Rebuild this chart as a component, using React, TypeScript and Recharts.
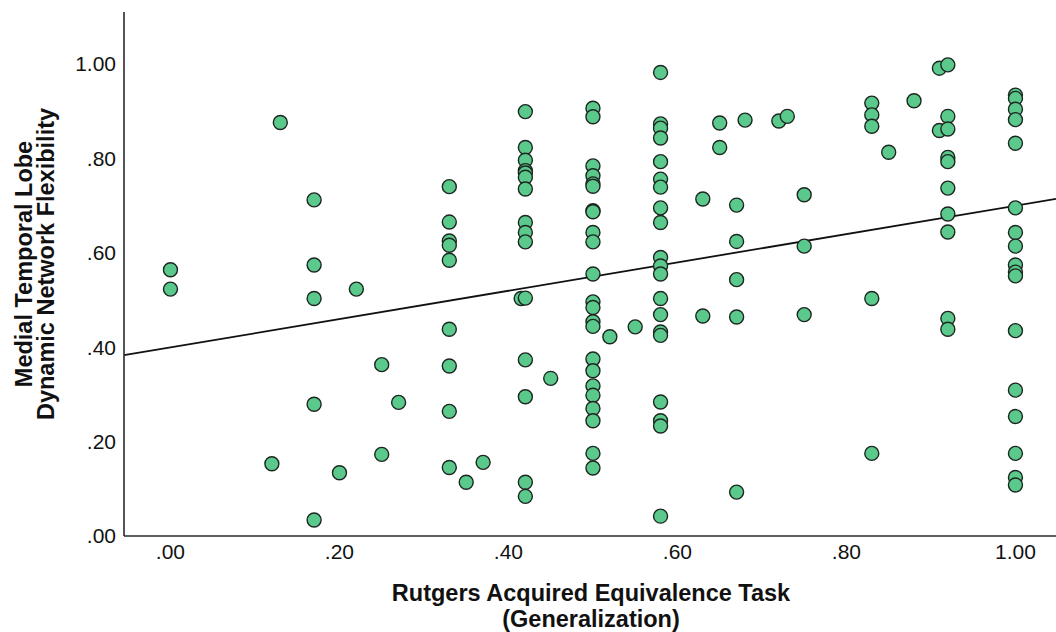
import React from 'react';
import { ScatterChart, Scatter, XAxis, YAxis, ReferenceLine } from 'recharts';

// Rutgers Acquired Equivalence Task (Generalization) score -> list of flexibility values
const col000 = [0.564, 0.523];
const col012 = [0.153];
const col013 = [0.876];
const col017 = [0.712, 0.574, 0.503, 0.279, 0.034];
const col020 = [0.134];
const col022 = [0.523];
const col025 = [0.363, 0.173];
const col027 = [0.283];
const col033 = [0.74, 0.665, 0.625, 0.616, 0.584, 0.438, 0.36, 0.264, 0.145];
const col035 = [0.114];
const col037 = [0.156];
const col0415 = [0.503];
const col042 = [0.899, 0.823, 0.796, 0.774, 0.769, 0.76, 0.735, 0.664, 0.643, 0.623, 0.504, 0.373, 0.295, 0.114, 0.084];
const col045 = [0.334];
const col050 = [0.906, 0.888, 0.784, 0.763, 0.746, 0.741, 0.689, 0.687, 0.643, 0.623, 0.555, 0.496, 0.484, 0.454, 0.444, 0.375, 0.35, 0.318, 0.298, 0.27, 0.244, 0.175, 0.144];
const col052 = [0.422];
const col055 = [0.443];
const col058 = [0.982, 0.873, 0.864, 0.843, 0.793, 0.756, 0.739, 0.695, 0.664, 0.59, 0.572, 0.555, 0.503, 0.469, 0.432, 0.425, 0.284, 0.244, 0.233, 0.042];
const col063 = [0.714, 0.466];
const col065 = [0.875, 0.823];
const col067 = [0.701, 0.624, 0.543, 0.464, 0.093];
const col068 = [0.881];
const col072 = [0.879];
const col073 = [0.889];
const col075 = [0.723, 0.614, 0.469];
const col083 = [0.917, 0.892, 0.868, 0.503, 0.175];
const col085 = [0.813];
const col088 = [0.922];
const col091 = [0.991, 0.859];
const col092 = [0.998, 0.889, 0.862, 0.802, 0.793, 0.737, 0.682, 0.644, 0.461, 0.438];
const col100 = [0.934, 0.927, 0.904, 0.882, 0.832, 0.695, 0.643, 0.614, 0.574, 0.559, 0.551, 0.435, 0.309, 0.253, 0.175, 0.124, 0.108];

const columns: [number, number[]][] = [
  [0, col000], [0.12, col012], [0.13, col013], [0.17, col017], [0.2, col020],
  [0.22, col022], [0.25, col025], [0.27, col027], [0.33, col033], [0.35, col035],
  [0.37, col037], [0.415, col0415], [0.42, col042], [0.45, col045], [0.5, col050],
  [0.52, col052], [0.55, col055], [0.58, col058], [0.63, col063], [0.65, col065],
  [0.67, col067], [0.68, col068], [0.72, col072], [0.73, col073], [0.75, col075],
  [0.83, col083], [0.85, col085], [0.88, col088], [0.91, col091], [0.92, col092],
  [1.0, col100],
];

// fit line end points
const fitStart = { x: -0.055, y: 0.383 };
const fitEnd = { x: 1.048, y: 0.714 };

const xTicks = [0, 0.2, 0.4, 0.6, 0.8, 1.0];
const yTicks = [0, 0.2, 0.4, 0.6, 0.8, 1.0];
const xDomain = [-0.055, 1.048];
const yDomain = [0, 1.11];

const points = columns.flatMap(([x, ys]) => ys.map((y) => ({ x, y })));

const fmt = (v: number) => v.toFixed(2).replace(/^0/, '');

const FONT = '"Liberation Sans", Arial, Helvetica, sans-serif';
const AXIS = '#2a2a2a';

const Dot = (props: any) => {
  const { cx, cy } = props;
  if (cx == null || cy == null) return null;
  return <circle cx={cx} cy={cy} r={7} fill="#5bc98b" stroke="#1c2620" strokeWidth={1.4} />;
};

const YTitle = () => (
  <text
    transform="rotate(-90)"
    textAnchor="middle"
    fontFamily={FONT}
    fontWeight="bold"
    fontSize={23.5}
    fill="#111"
  >
    <tspan x={-264} y={32}>Medial Temporal Lobe</tspan>
    <tspan x={-264} y={54}>Dynamic Network Flexibility</tspan>
  </text>
);

const XTitle = () => (
  <text textAnchor="middle" fontFamily={FONT} fontWeight="bold" fontSize={23.5} fill="#111">
    <tspan x={591} y={601}>Rutgers Acquired Equivalence Task</tspan>
    <tspan x={591} y={627}>(Generalization)</tspan>
  </text>
);

export default function App() {
  return (
    <div style={{ position: 'absolute', left: 0, top: 0, width: 1056, height: 632, background: '#fff' }}>
      <ScatterChart width={1056} height={632} margin={{ top: 12, right: 0, bottom: 66, left: 64 }}>
        <XAxis
          type="number"
          dataKey="x"
          domain={xDomain}
          ticks={xTicks}
          tickFormatter={fmt}
          allowDataOverflow
          axisLine={{ stroke: AXIS, strokeWidth: 1.6 }}
          tickLine={false}
          tick={{ fontFamily: FONT, fontSize: 21, fill: '#111' }}
          height={30}
        />
        <YAxis
          type="number"
          dataKey="y"
          domain={yDomain}
          ticks={yTicks}
          tickFormatter={fmt}
          allowDataOverflow
          axisLine={{ stroke: AXIS, strokeWidth: 1.6 }}
          tickLine={false}
          tick={{ fontFamily: FONT, fontSize: 21, fill: '#111' }}
          width={60}
        />
        <ReferenceLine
          segment={[fitStart, fitEnd]}
          stroke="#111"
          strokeWidth={1.8}
          ifOverflow="visible"
        />
        <Scatter data={points} shape={Dot} isAnimationActive={false} />
        <YTitle />
        <XTitle />
      </ScatterChart>
    </div>
  );
}
